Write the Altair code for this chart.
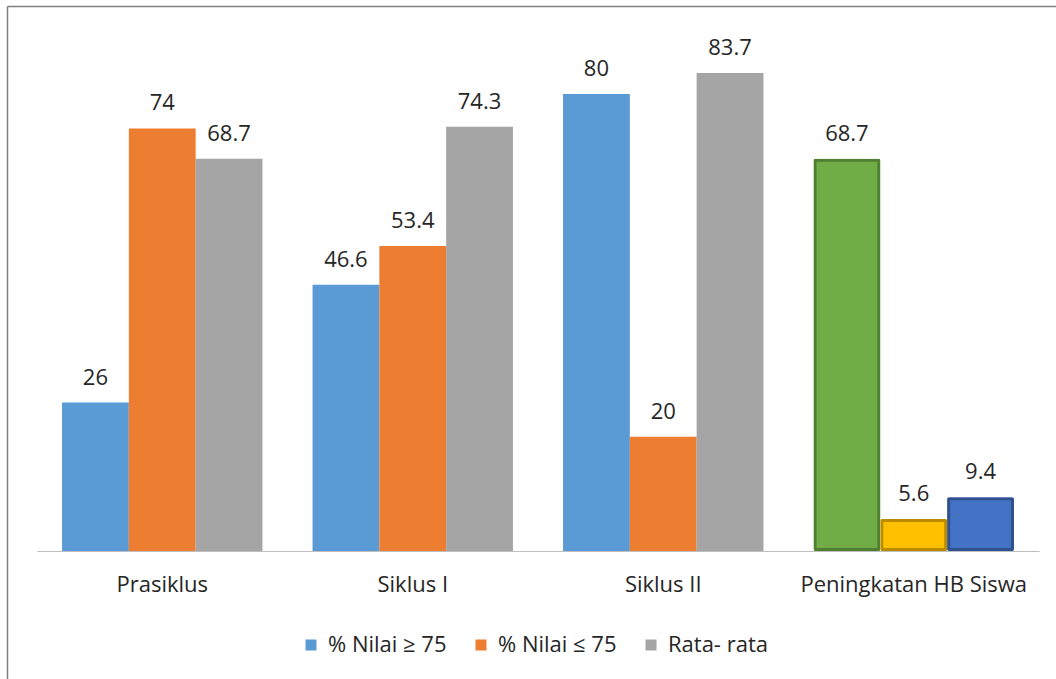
import altair as alt
import pandas as pd

categories = ["Prasiklus", "Siklus I", "Siklus II", "Peningkatan HB Siswa"]
series = ["% Nilai ≥ 75", "% Nilai ≤ 75", "Rata- rata"]
nilai_atas = [26, 46.6, 80, 68.7]
nilai_bawah = [74, 53.4, 20, 5.6]
rata_rata = [68.7, 74.3, 83.7, 9.4]
series_colors = ["#5B9BD5", "#ED7D31", "#A5A5A5"]
last_fill = ["#70AD47", "#FFC000", "#4472C4"]
last_stroke = ["#507E32", "#BC8C00", "#2F528F"]

FONT = "Open Sans"
FS = 22
TXT = "#262626"

rows = []
for ci, cat in enumerate(categories):
    for si, (s, vals) in enumerate(zip(series, [nilai_atas, nilai_bawah, rata_rata])):
        rows.append({
            "kategori": cat,
            "seri": s,
            "nilai": vals[ci],
            "fill": last_fill[si],
            "stroke": last_stroke[si],
            "last": ci == len(categories) - 1,
        })
df = pd.DataFrame(rows)
df_main = df[~df["last"]]
df_last = df[df["last"]]

x_enc = alt.X("kategori:N", sort=categories,
              scale=alt.Scale(domain=categories, paddingInner=0.2, paddingOuter=0.1),
              axis=alt.Axis(title=None, labelAngle=0, ticks=False, labelPadding=23,
                            labelFontSize=FS, labelFont=FONT, labelColor=TXT, labelLimit=1000,
                            domainColor="#BFBFBF", domainWidth=1.2))
xo_enc = alt.XOffset("seri:N", sort=series, scale=alt.Scale(domain=series, paddingInner=0, paddingOuter=0))
y_enc = alt.Y("nilai:Q", scale=alt.Scale(domain=[0, 90], nice=False), axis=None)

bars_main = alt.Chart(df_main).mark_bar().encode(
    x=x_enc, xOffset=xo_enc, y=y_enc,
    color=alt.Color("seri:N", sort=series,
                    scale=alt.Scale(domain=series, range=series_colors),
                    legend=alt.Legend(title=None, orient="none", legendX=263, legendY=597,
                                      direction="horizontal", symbolType="square",
                                      symbolSize=121, symbolStrokeWidth=0,
                                      labelFontSize=FS, labelFont=FONT, labelColor=TXT,
                                      columnPadding=23, labelOffset=6)),
)

bars_last = alt.Chart(df_last).mark_bar(cornerRadius=2, strokeWidth=6, strokeOpacity=1,
                                        strokeJoin="round").encode(
    x=x_enc, xOffset=xo_enc, y=y_enc,
    fill=alt.Fill("fill:N", scale=None),
    stroke=alt.Stroke("stroke:N", scale=None),
)

labels = alt.Chart(df).mark_text(baseline="alphabetic", dy=-18, fontSize=FS, font=FONT,
                                 color=TXT).encode(
    x=x_enc, xOffset=xo_enc, y=y_enc, text=alt.Text("nilai:Q"),
)

frame_df = pd.DataFrame({"k": [0]})
frame_left = alt.Chart(frame_df).mark_rule(color="#808080", strokeWidth=1.5).encode(
    x=alt.value(-29.5), y=alt.value(-30.5), y2=alt.value(700))
frame_top = alt.Chart(frame_df).mark_rule(color="#808080", strokeWidth=1.5).encode(
    x=alt.value(-29.5), x2=alt.value(1100), y=alt.value(-30.5))

chart = alt.layer(frame_left, frame_top, bars_main, bars_last, labels).properties(
    width=1002, height=514,
    background="white",
    autosize=alt.AutoSizeParams(type="none"),
    padding={"left": 37, "top": 37, "right": 17, "bottom": 128},
).configure_view(strokeWidth=0, stroke="transparent")

chart.save("out.html", embed_options={"renderer": "svg", "actions": False})
